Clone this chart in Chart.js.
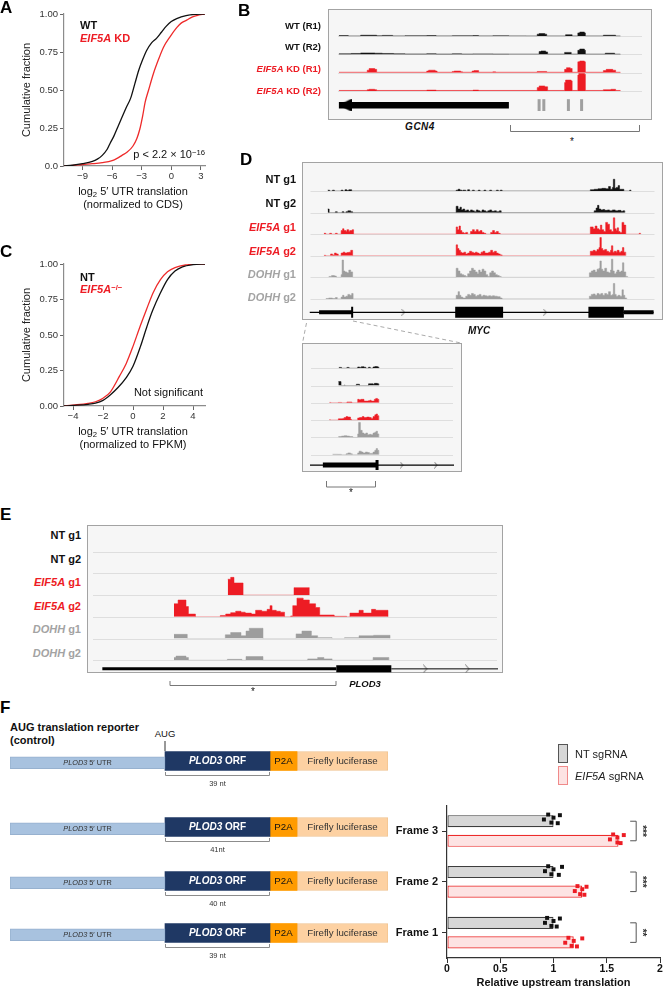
<!DOCTYPE html>
<html>
<head>
<meta charset="utf-8">
<title>EIF5A upstream translation figure</title>
<script src="https://cdn.jsdelivr.net/npm/chart.js@4.4.1/dist/chart.umd.min.js"></script>
<style>
  html, body { margin: 0; padding: 0; background: #fff; }
  #page { position: relative; width: 665px; height: 990px; overflow: hidden; font-family: "Liberation Sans", Arial, sans-serif; color: #111; }
  #page canvas, #page .box, #page .t, #page svg, #page .key { position: absolute; }
  .box { box-sizing: border-box; border: 1px solid #a3a3a3; background: #f6f6f6; }
  .t { white-space: nowrap; line-height: 1; }
  .letter { font-size: 17px; font-weight: bold; color: #000; }
  .lab { font-size: 11px; font-weight: bold; }
  .red { color: #ed1c24; }
  .gry { color: #a3a3a3; }
  .t sup { font-size: 70%; position: relative; top: -0.45em; vertical-align: baseline; }
  .t sub { font-size: 70%; position: relative; top: 0.3em; vertical-align: baseline; }
  .key { box-sizing: border-box; width: 10px; height: 19px; }
</style>
</head>
<body>
<div id="page"></div>
<script>
// ---------- A: cumulative fraction, log2 5' UTR translation (normalized to CDS) ----------
const aXTicks = [-9, -6, -3, 0, 3];
const yFracTicks = [0, 0.25, 0.5, 0.75, 1];
const aYLabels = ['0.0', '0.25', '0.50', '0.75', '1.00'];
const aWT = [[-10.9,0],[-10,0.005],[-9,0.015],[-8,0.03],[-7.5,0.045],[-7,0.07],[-6.5,0.11],[-6.2,0.15],[-5.8,0.2],[-5.4,0.26],[-5,0.32],[-4.6,0.38],[-4.1,0.45],[-3.7,0.54],[-3.3,0.63],[-2.9,0.7],[-2.5,0.76],[-2,0.81],[-1.5,0.84],[-1,0.88],[-0.5,0.92],[0,0.95],[0.55,0.97],[1.5,0.99],[2.5,0.998],[3.4,1]];
const aKD = [[-10.9,0],[-10,0.004],[-9,0.01],[-8,0.015],[-7,0.022],[-6,0.035],[-5.5,0.05],[-5,0.07],[-4.5,0.09],[-3.9,0.13],[-3.5,0.18],[-3.2,0.24],[-2.9,0.33],[-2.65,0.42],[-2.3,0.5],[-1.8,0.61],[-1.3,0.7],[-0.8,0.78],[-0.13,0.85],[0.55,0.91],[1,0.94],[1.56,0.96],[2.1,0.98],[2.6,0.99],[3.4,1]];

// ---------- C: cumulative fraction (normalized to FPKM) ----------
const cXTicks = [-4, -2, 0, 2, 4];
const cYLabels = ['0.00', '0.25', '0.50', '0.75', '1.00'];
const cNT = [[-4.6,0],[-4,0.004],[-3,0.012],[-2.5,0.02],[-2,0.04],[-1.5,0.08],[-1,0.13],[-0.45,0.2],[0,0.28],[0.5,0.42],[0.93,0.56],[1.3,0.67],[1.8,0.79],[2.3,0.89],[2.8,0.95],[3.3,0.98],[4,0.995],[4.8,1]];
const cKO = [[-4.6,0],[-4,0.006],[-3,0.018],[-2.5,0.03],[-2,0.055],[-1.5,0.1],[-0.9,0.21],[-0.45,0.3],[0,0.42],[0.47,0.56],[0.9,0.68],[1.35,0.8],[1.83,0.89],[2.3,0.945],[2.8,0.975],[3.5,0.993],[4.8,1]];

// ---------- B: GCN4 coverage tracks ([position, height] steps) ----------
const bWT1 = [[2,0.8],[12,0.3],[25,1.2],[42,0.5],[48,1],[59,0.4],[72,0.6],[95,0.8],[105,0.4],[122,0.6],[144,0.8],[150,0.4],[165,0.6],[182,0.4],[200,0.3],[212,2.5],[214,3.2],[220,2.5],[222,0.3],[242,1.8],[249,0.3],[255,4],[257,5],[262,4],[263,0.3],[282,1.2],[295,0.3],[300,0]];
const bWT2 = [[2,0.8],[15,1.2],[25,1.8],[40,1.5],[48,1.2],[60,0.8],[72,0.6],[95,0.9],[105,0.5],[122,0.8],[132,0.5],[144,0.7],[165,0.5],[182,0.4],[212,0.4],[214,3.5],[216,4.2],[221,3],[223,0.4],[241,2.5],[248,0.4],[255,5],[257,6.5],[262,5],[263,0.4],[284,1.5],[294,0.4],[300,0]];
const bKD1 = [[2,0.6],[32,3],[34,5],[40,4],[42,0.6],[95,2],[97,3],[104,2],[106,0.6],[122,1.5],[124,2],[131,1],[133,0.6],[143,2],[145,2.5],[150,0.6],[165,1],[168,0.6],[212,1.5],[222,0.6],[241,4],[243,6],[247,5],[249,0.6],[255,13],[257,14],[262,13],[263,0.6],[282,2.5],[285,4],[292,3],[295,0.6],[300,0]];
const bKD2 = [[2,0.6],[32,1.5],[34,2],[40,1.5],[42,0.6],[95,1],[105,0.6],[144,1],[150,0.6],[212,4],[214,6],[220,5],[223,0.6],[241,10],[242,13],[248,12],[249,0.6],[255,19],[256,21],[262,20],[263,0.6],[282,1.5],[290,2],[295,0.6],[300,0]];
const bGene = [[2, 182, 'cds']];
const bUorfs = [214, 219, 245, 259];

// ---------- D: MYC coverage tracks ----------
const dNT1 = [[19,1],[21,0],[24,1],[26,0],[33,1],[35,0],[37,1.5],[39,0.5],[41,1.5],[44,0],[153,1],[155,2],[157,1],[159,0],[160,1],[163,0],[165,1.5],[167,0],[170,1],[172,0],[176,1],[178,0],[182,1],[184,0],[188,1],[190,0],[195,1],[197,0],[199,1],[201,0],[293,1.5],[297,2],[301,2.5],[305,3],[309,2.5],[312,5],[314,2],[316,4],[317,13],[318.5,3],[320,4],[322,6],[323.5,2],[326,2],[328,0],[334,1],[335.5,0]];
const dNT2 = [[19,4],[20.5,0],[27,1],[29,0],[34,1],[36,0],[38,1],[40,2],[43,1],[45,0],[153,7],[155,4],[157,6],[158.5,3],[160,4],[162,2],[164,3],[166,1.5],[168,3],[170,2],[172,1],[174,3],[176,2],[178,1],[180,3],[182,2],[184,1],[186,2],[188,3],[190,1.5],[193,2],[195,1],[198,2],[200,0],[297,2],[299,5],[300.5,8],[302,4],[304,3],[306,3.5],[308,2.5],[311,3],[313,2],[316,3],[319,2],[322,2.5],[325,1.5],[327,2],[329,0]];
const dEIF1 = [[15,1],[17,0],[21,1],[23,0],[27,1],[29,0],[33,4],[34.5,6],[36,4],[38,3],[39,5],[41,3],[42,4],[44.5,5],[46,0],[153,8],[154.5,5],[156,9],[157.5,4],[159,2],[161,1],[163,2],[165,0],[168,3],[170,5],[172,3],[174,5],[176,3],[178,4],[180,2],[182,1],[184,0],[189,2],[191,4],[193,2],[195,3],[197,1],[199,0],[293,8],[296,6],[298,9],[300,6],[302,5],[303.5,10],[305,5],[307,3],[309,13],[311,11],[313,5],[315,3],[317,18],[318.5,6],[320,4],[321,7],[322.5,3],[324,2],[326,13],[328,10],[330,0],[344,1],[345.5,0]];
const dEIF2 = [[15,0.5],[17,0],[22,2],[24,1],[26,3],[28,2],[30,0],[33,3],[35,4],[37,3],[39,3.5],[41,4],[43,6],[45,0],[153,12],[154.5,8],[156,6],[157.5,4],[159,3],[161,4],[163,2],[165,3],[167,5],[169,4],[171,3],[173,4],[175,3],[177,2],[179,4],[181,5],[183,3],[185,3],[187,4],[189,6],[191,4],[193,5],[195,3],[197,2],[199,1],[201,0],[293,5],[296,6],[298,5],[300,7],[302,9],[303,20],[304.5,8],[306,6],[308,7],[310,5],[312,4],[314,6],[315,11],[316.5,4],[318,5],[320,4],[321,6],[323,4],[325,5],[326.5,9],[328,4],[330,0]];
const dDOHH1 = [[20,1],[23,2],[26,1.5],[28,0],[33,3],[34,19],[35.5,7],[37,6],[39,5],[41,8],[43,6],[45,0],[153,10],[155,7],[157,4],[159,3],[161,2],[163,1],[165,4],[167,7],[169,10],[171,8],[173,6],[175,4],[176.5,8],[178,6],[180,9],[182,7],[184,3],[186,1],[188,5],[190,7],[192,5],[194,3],[196,2],[198,1],[200,0],[292,5],[294,7],[296,8],[298,6],[300,9],[302,10],[303,18],[304.5,9],[306,7],[308,10],[310,6],[312,5],[314,8],[315,20],[316.5,7],[318,4],[320,6],[321,8],[323,6],[325,7],[326.5,16],[328,6],[330,1],[332,0]];
const dDOHH2 = [[17,0.5],[20,1],[24,0.5],[27,1.5],[29,0],[33,2],[34.5,4],[36,2],[38,3],[40,5],[42,4],[44,6],[45.5,0],[153,4],[155,8],[156.5,4],[158,2],[160,1],[163,3],[165,5],[167,4],[169,6],[171,5],[173,3],[175,4],[177,5],[179,3],[181,4],[183,3.5],[185,3],[187,3.5],[189,3],[191,3.5],[193,3],[196,2.5],[199,1],[201,0],[292,3],[294,5],[296,5.5],[298,4],[300,6],[302,5],[304,6],[306,4],[308,6],[310,5],[312,8],[314,4],[316,5],[317,17],[318.5,5],[320,3],[322,4],[324,3],[326,10],[327.5,4],[329,1],[331,0]];
const dGene = [[0,359,'line'],[10,45,'utr'],[152,202,'cds'],[291,328,'cds'],[328,359,'utr']];
const dMarks = [44.5];
const dChevrons = [98, 246];

// ---------- D inset: MYC 5' region ----------
const iNT1 = [[32,1],[35,0],[41,1],[43.5,0],[53,1.5],[55,1],[57,1.8],[60,1.2],[62,0],[65,1.2],[67,0],[70,1.5],[72,2],[75,1.5],[76.5,0]];
const iNT2 = [[31.5,4.5],[34.5,0],[38,0.5],[39,0],[51.5,1.5],[55,0],[65,2],[70,1.5],[71.5,2.5],[75,2],[76.5,0]];
const iEIF1 = [[21.5,0.5],[23,0],[31.5,0.5],[35,0],[41,1],[46.5,0],[53,4],[54.5,3.5],[56.5,4],[60,2],[65,2.5],[66.5,3],[68,2],[71.5,4],[73,5],[75,4],[76.5,0]];
const iEIF2 = [[21.5,0.5],[22.5,0],[31.5,1.5],[36.5,2],[38,3],[40,4],[42,3.5],[45,1],[46,0],[53,2.5],[55,3],[58,4],[60,3],[63,3.5],[66,3],[68,2],[70,4],[72,6],[73.5,7],[75,5],[76.5,0]];
const iDOHH1 = [[31.5,1],[35,1.5],[38,2],[41,1.5],[44,1],[47.5,0],[53,4],[54,17],[56,8],[58,5],[60,4],[62,5],[64,3],[66,3.5],[68,3],[70,5],[72,6],[73.5,7],[75,4],[76.5,0]];
const iDOHH2 = [[25,0.5],[31,0.4],[35,0],[40,1],[42,2],[45,1],[47,0],[53,2],[54.5,4],[57,3],[59,2],[61.5,3],[64,2.5],[66,1.5],[70,3],[72,5],[73.5,7],[75,5],[76.5,0]];
const iGene = [[0,160,'line'],[14.3,75,'utr']];
const iMarks = [74.5];
const iChevrons = [102, 140];

// ---------- E: PLOD3 coverage tracks ----------
const eNT1 = [];
const eNT2 = [];
const eEIF1 = [[139.1,17],[142.1,19],[145.5,13],[154.8,0],[207,8],[222.7,0]];
const eEIF2 = [[84,14],[88.2,18],[96.3,11],[98.8,3],[106,0],[131.5,1.5],[137,3],[142.1,4.5],[147.2,6],[152.7,5],[157,4],[163.3,3],[167.6,7],[173.9,6],[179.4,8],[182.4,12],[184.5,7],[188.8,6],[193,5],[197.3,0],[203.6,1],[205.7,12],[210,20],[216.4,18],[222.7,14],[229.1,10],[233.3,2],[248.2,0.6],[260.9,0],[264.3,4],[273.6,7],[277.9,4],[286.4,8],[290.6,7],[303.3,0]];
const eDOHH1 = [[84,4.5],[97.6,0],[136.6,4],[142.1,6.5],[152.7,3],[157.8,8],[161.2,11],[175.2,0],[209.1,5],[215.1,8],[224.8,3],[231.2,1],[246,0],[258.8,1],[273.6,3],[288.5,3.5],[305.4,0]];
const eDOHH2 = [[84,3],[86.1,4.5],[96.3,3],[98.8,0],[138.7,1],[153.6,0],[157.8,4],[175.2,0],[221,1.5],[231.2,3],[237.6,1.5],[246,0],[288,3],[304.2,0]];
const eGene = [[10.6,250.3,'utr'],[250.3,306.7,'cds'],[306.7,416,'line']];
const eChevrons = [341.5, 384.8];

// ---------- F: reporter constructs and upstream translation ----------
const utrSpan = [0, 155];
const orfSpan = [155, 260];
const p2aSpan = [260, 287];
const lucSpan = [287, 378];
const orfLengths = ['39 nt', '41nt', '40 nt', '39 nt'];
const frames = ['Frame 3', 'Frame 2', 'Frame 1'];
const ntMean = [1.0, 1.0, 1.0];
const eifMean = [1.61, 1.27, 1.19];
const ntDots = [[0.91,0.95,0.98,1.0,1.04,1.06],[0.92,0.95,0.98,1.0,1.05,1.08],[0.92,0.94,0.98,1.0,1.03,1.06]];
const eifDots = [[1.53,1.56,1.6,1.6,1.63,1.66],[1.2,1.225,1.25,1.27,1.29,1.31],[1.11,1.14,1.17,1.19,1.22,1.27]];
const sigLabels = ['***', '***', '**'];
const fXTicks = [0, 0.5, 1, 1.5, 2];

// ---------------------------------------------------------------------------
const RED = '#ed1c24', BLK = '#111111', GRY = '#9d9d9d';
const FONT = '"Liberation Sans", Arial, sans-serif';
Chart.defaults.font.family = FONT;
const page = document.getElementById('page');

function mkCanvas(x, y, w, h) {
  const c = document.createElement('canvas');
  c.width = w; c.height = h;
  c.style.left = x + 'px'; c.style.top = y + 'px';
  page.appendChild(c);
  return c;
}
function mkBox(x, y, w, h) {
  const d = document.createElement('div');
  d.className = 'box';
  d.style.cssText = `left:${x}px;top:${y}px;width:${w}px;height:${h}px`;
  page.appendChild(d);
}
function txt(html, x, y, cls, anchor, style) {
  const d = document.createElement('div');
  d.className = 't ' + (cls || '');
  d.innerHTML = html;
  const tx = anchor === 'r' ? '-100%' : anchor === 'c' ? '-50%' : '0';
  d.style.cssText = `left:${x}px;top:${y}px;transform:translate(${tx},-50%);${style || ''}`;
  page.appendChild(d);
}

// ---- cumulative distribution charts (A, C) ----
function cdfChart(canvas, series, colors, xRange, xTicks, yLabels) {
  return new Chart(canvas, {
    type: 'line',
    data: {
      datasets: series.map((s, i) => ({
        data: s.map(([x, y]) => ({ x, y })),
        borderColor: colors[i], borderWidth: 1.3, pointRadius: 0,
        cubicInterpolationMode: 'monotone'
      }))
    },
    options: {
      responsive: false, animation: false, devicePixelRatio: 1,
      layout: { padding: { top: 14, right: 5, left: 0, bottom: 0 } },
      plugins: { legend: { display: false }, tooltip: { enabled: false } },
      scales: {
        x: {
          type: 'linear', min: xRange[0], max: xRange[1],
          afterBuildTicks: s => { s.ticks = xTicks.map(v => ({ value: v })); },
          afterFit: s => { s.height = 44; },
          grid: { drawOnChartArea: false, tickLength: 4, color: '#666' },
          border: { color: '#8c8c8c', width: 1.2 },
          ticks: { color: '#333', font: { size: 9.5 }, padding: 1, maxRotation: 0, autoSkip: false,
                   callback: v => (v < 0 ? '−' : '') + Math.abs(v) }
        },
        y: {
          type: 'linear', min: 0, max: 1,
          afterBuildTicks: s => { s.ticks = yFracTicks.map(v => ({ value: v })); },
          afterFit: s => { s.width = 64; },
          grid: { drawOnChartArea: false, tickLength: 4, color: '#666' },
          border: { color: '#8c8c8c', width: 1.2 },
          ticks: { color: '#333', font: { size: 9.5 }, padding: 2, callback: (v, i) => yLabels[i] },
          title: { display: true, text: 'Cumulative fraction', color: '#222', font: { size: 11 }, padding: { top: 20, bottom: 0 } }
        }
      }
    }
  });
}

// ---- genome browser style tracks (B, D, inset, E) ----
function pointImage(w, h, draw) {
  const c = document.createElement('canvas');
  c.width = w; c.height = h;
  draw(c.getContext('2d'), w, h);
  return c;
}
const chevron = (w, h) => pointImage(w, h, (g) => {
  g.strokeStyle = '#6d6d6d'; g.lineWidth = 1;
  g.beginPath(); g.moveTo(0.5, 0.5); g.lineTo(w - 1, h / 2); g.lineTo(0.5, h - 0.5); g.stroke();
});
const arrowHead = pointImage(13, 13, (g, w, h) => {
  g.fillStyle = '#000';
  g.beginPath(); g.moveTo(0, h / 2); g.lineTo(w, 0); g.lineTo(w, h); g.closePath(); g.fill();
});

const trackLines = {
  id: 'trackLines',
  beforeDatasetsDraw(chart) {
    const { ctx, chartArea } = chart;
    ctx.save();
    ctx.strokeStyle = '#dedede'; ctx.lineWidth = 1;
    Object.values(chart.scales).forEach(s => {
      if (s.id[0] !== 't') return;
      const y = Math.round(s.getPixelForValue(0)) + 0.5;
      ctx.beginPath(); ctx.moveTo(chartArea.left + 1, y); ctx.lineTo(chartArea.right - 1, y); ctx.stroke();
    });
    ctx.restore();
  }
};

function trackChart(canvas, cfg) {
  const scales = { x: { type: 'linear', min: 0, max: cfg.width, display: false } };
  const datasets = [];
  cfg.tracks.forEach((steps, i) => {
    const id = 't' + i;
    scales[id] = { type: 'linear', position: 'right', stack: 'tracks', stackWeight: 1, min: 0, max: cfg.trackMax, display: false };
    datasets.push({
      data: steps.map(([x, y]) => ({ x, y })), yAxisID: id,
      stepped: true, fill: 'origin', backgroundColor: cfg.colors[i], borderColor: cfg.colors[i],
      borderWidth: 0.5, pointRadius: 0
    });
  });
  scales.g = { type: 'linear', position: 'right', stack: 'tracks', stackWeight: cfg.geneWeight,
               min: cfg.geneRange[0], max: cfg.geneRange[1], display: false };
  cfg.gene.forEach(([a, b, kind]) => {
    datasets.push({ data: [{ x: a, y: 0 }, { x: b, y: 0 }], yAxisID: 'g', borderColor: '#000',
                    borderWidth: cfg.geneWidths[kind], borderCapStyle: 'butt', pointRadius: 0 });
  });
  if (cfg.arrowAt !== undefined) {
    datasets.push({ data: [{ x: cfg.arrowAt + 6.5, y: 0 }], yAxisID: 'g', showLine: false,
                    pointStyle: arrowHead, pointRadius: 6 });
  }
  if (cfg.marks) {
    datasets.push({ data: cfg.marks.xs.map(x => ({ x, y: 0 })), yAxisID: 'g', showLine: false,
                    pointStyle: 'line', rotation: 90, pointRadius: cfg.marks.len / 2,
                    pointBorderWidth: cfg.marks.width, pointBorderColor: cfg.marks.color });
  }
  if (cfg.chevrons) {
    const img = chevron(cfg.chevronSize[0], cfg.chevronSize[1]);
    datasets.push({ data: cfg.chevrons.map(x => ({ x, y: 0 })), yAxisID: 'g', showLine: false,
                    pointStyle: img, pointRadius: 4 });
  }
  return new Chart(canvas, {
    type: 'line',
    data: { datasets },
    options: {
      responsive: false, animation: false, devicePixelRatio: 1,
      layout: { padding: 0 },
      plugins: { legend: { display: false }, tooltip: { enabled: false } },
      scales
    },
    plugins: [trackLines]
  });
}

// ---- reporter construct rows (F) ----
const segStyles = [
  { text: [['PLOD3', 'italic '], [' 5′ UTR', '']], size: 7.3, color: '#333' },
  { text: [['PLOD3', 'italic bold '], [' ORF', 'bold ']], size: 10, color: '#fff' },
  { text: [['P2A', '']], size: 9.7, color: '#111' },
  { text: [['Firefly luciferase', '']], size: 9.7, color: '#333' }
];
const segPlugin = {
  id: 'seg',
  afterDatasetsDraw(chart, args, opts) {
    const { ctx, chartArea } = chart;
    ctx.save();
    ctx.textBaseline = 'middle'; ctx.textAlign = 'left';
    segStyles.forEach((st, i) => {
      const el = chart.getDatasetMeta(i).data[0];
      const cx = (el.x + el.base) / 2;
      const fonts = st.text.map(([, f]) => `${f}${st.size}px ${FONT}`);
      let w = 0;
      st.text.forEach(([s], k) => { ctx.font = fonts[k]; w += ctx.measureText(s).width; });
      let x = cx - w / 2;
      ctx.fillStyle = st.color;
      st.text.forEach(([s], k) => { ctx.font = fonts[k]; ctx.fillText(s, x, el.y + 0.5); x += ctx.measureText(s).width; });
    });
    const orf = chart.getDatasetMeta(1).data[0];
    const yb = chartArea.bottom + 4.5, x0 = orf.base + 0.5, x1 = orf.x - 0.5;
    ctx.strokeStyle = '#8c8c8c'; ctx.lineWidth = 1;
    ctx.beginPath(); ctx.moveTo(x0, yb - 3.5); ctx.lineTo(x0, yb); ctx.lineTo(x1, yb); ctx.lineTo(x1, yb - 3.5); ctx.stroke();
    ctx.fillStyle = '#333'; ctx.font = `7.5px ${FONT}`; ctx.textAlign = 'center';
    ctx.fillText(opts.nt, (x0 + x1) / 2, chartArea.bottom + 13);
    ctx.restore();
  }
};
function constructChart(canvas, ntLabel) {
  return new Chart(canvas, {
    type: 'bar',
    data: {
      labels: ['reporter'],
      datasets: [
        { data: [{ x: utrSpan, y: 0 }], yAxisID: 'yu', backgroundColor: '#a8c2df', borderColor: '#97b1cf', borderWidth: 1, barThickness: 12, grouped: false, borderSkipped: false },
        { data: [orfSpan], backgroundColor: '#1f3864', barThickness: 19, grouped: false },
        { data: [p2aSpan], backgroundColor: '#ff9b00', barThickness: 19, grouped: false },
        { data: [lucSpan], backgroundColor: '#fdd1a2', borderColor: '#f0c28e', borderWidth: 1, barThickness: 19, grouped: false, borderSkipped: false }
      ]
    },
    options: {
      indexAxis: 'y', responsive: false, animation: false, devicePixelRatio: 1,
      layout: { padding: { left: 10, right: 12, top: 16, bottom: 24 } },
      plugins: { legend: { display: false }, tooltip: { enabled: false }, seg: { nt: ntLabel } },
      scales: {
        x: { type: 'linear', min: 0, max: 378, display: false },
        y: { type: 'category', display: false },
        yu: { type: 'linear', min: -0.65, max: 1.35, display: false }
      }
    },
    plugins: [segPlugin]
  });
}

// ---- bar chart (F) ----
const catPct = 0.77, barPct = 0.62;
const dotJitter = [0.05, -0.35, 0.3, -0.1, 0.35, -0.3];
function dotPoints(groups, side) {
  const off = catPct / 4, barUnits = catPct / 2 * barPct;
  const pts = [];
  groups.forEach((vals, i) => vals.forEach((v, k) => {
    pts.push({ x: v, y: i + 0.5 + side * off + dotJitter[k] * barUnits });
  }));
  return pts;
}
const sigX = 1.72;
const sigPlugin = {
  id: 'sig',
  afterDatasetsDraw(chart) {
    const { ctx } = chart;
    const a = chart.getDatasetMeta(0).data, b = chart.getDatasetMeta(1).data;
    const x0 = chart.scales.x.getPixelForValue(sigX), x1 = x0 + 6;
    ctx.save();
    ctx.strokeStyle = '#555'; ctx.lineWidth = 1; ctx.fillStyle = '#333';
    ctx.font = `bold 10px ${FONT}`; ctx.textAlign = 'center'; ctx.textBaseline = 'middle';
    sigLabels.forEach((lab, i) => {
      const y0 = a[i].y, y1 = b[i].y;
      ctx.beginPath(); ctx.moveTo(x0, y0); ctx.lineTo(x1, y0); ctx.lineTo(x1, y1); ctx.lineTo(x0, y1); ctx.stroke();
      ctx.save(); ctx.translate(x1 + 5.5, (y0 + y1) / 2); ctx.rotate(Math.PI / 2); ctx.fillText(lab, 0, 0); ctx.restore();
    });
    ctx.restore();
  }
};

// ===================== build the page =====================
// Panel A
cdfChart(mkCanvas(0, 0, 210, 210), [aWT, aKD], [BLK, '#ee2a2a'], [-10.88, 3.42], aXTicks, aYLabels);
txt('A', 0, 7, 'letter');
txt('WT', 80, 24.5, 'lab');
txt('<i>EIF5A</i> KD', 80, 38, 'lab red');
txt('p &lt; 2.2 × 10<sup>−16</sup>', 205, 154, '', 'r', 'font-size:11px');
txt('log<sub>2</sub> 5′ UTR translation', 133, 191, '', 'c', 'font-size:11px');
txt('(normalized to CDS)', 133, 203.5, '', 'c', 'font-size:11px');

// Panel C
cdfChart(mkCanvas(0, 250, 210, 200), [cNT, cKO], [BLK, '#ee2a2a'], [-4.6, 4.8], cXTicks, cYLabels);
txt('C', 0, 251, 'letter');
txt('NT', 80, 276.5, 'lab');
txt('<i>EIF5A</i><sup>−/−</sup>', 80, 289, 'lab red');
txt('Not significant', 203, 392, '', 'r', 'font-size:11px');
txt('log<sub>2</sub> 5′ UTR translation', 133, 431, '', 'c', 'font-size:11px');
txt('(normalized to FPKM)', 133, 443.5, '', 'c', 'font-size:11px');

// Panel B
mkBox(328, 9, 324, 111);
trackChart(mkCanvas(328, 9, 324, 111), {
  width: 324, trackMax: 21.8, tracks: [bWT1, bWT2, bKD1, bKD2], colors: [BLK, BLK, RED, RED],
  geneWeight: 1.1, geneRange: [-0.58, 1.42], gene: bGene, geneWidths: { cds: 6.5 }, arrowAt: 2,
  marks: { xs: bUorfs, len: 12, width: 3, color: '#a0a0a0' }
});
txt('B', 238, 10, 'letter');
txt('WT (R1)', 321, 25.5, 'lab', 'r', 'font-size:9.5px');
txt('WT (R2)', 321, 47, 'lab', 'r', 'font-size:9.5px');
txt('<i>EIF5A</i> KD (R1)', 321, 68.7, 'lab red', 'r', 'font-size:9.5px');
txt('<i>EIF5A</i> KD (R2)', 321, 90.5, 'lab red', 'r', 'font-size:9.5px');
txt('<i>GCN4</i>', 420, 127, 'lab', 'c', 'font-size:10px;letter-spacing:0.5px');
txt('*', 572, 142, '', 'c', 'font-size:10px');

// Panel D
mkBox(302, 162, 361, 158);
trackChart(mkCanvas(302, 162, 361, 166), {
  width: 361, trackMax: 23.7, tracks: [dNT1, dNT2, dEIF1, dEIF2, dDOHH1, dDOHH2],
  colors: [BLK, BLK, RED, RED, GRY, GRY],
  geneWeight: 1, geneRange: [-0.76, 1.24], gene: dGene, geneWidths: { line: 1.3, utr: 4, cds: 11 },
  marks: { xs: dMarks, len: 11, width: 2, color: '#000' }, chevrons: dChevrons, chevronSize: [4, 7]
});
txt('D', 240, 159, 'letter');
const trackNames = [
  ['NT g1', 'lab'], ['NT g2', 'lab'],
  ['<i>EIF5A</i> g1', 'lab red'], ['<i>EIF5A</i> g2', 'lab red'],
  ['<i>DOHH</i> g1', 'lab gry'], ['<i>DOHH</i> g2', 'lab gry']
];
[179, 203.3, 226.7, 251, 274.3, 297.3].forEach((y, i) => txt(trackNames[i][0], 296, y, trackNames[i][1], 'r'));
txt('<i>MYC</i>', 479, 331, 'lab', 'c', 'font-size:10px');

// D inset
mkBox(302, 343, 160, 129);
trackChart(mkCanvas(302, 343, 160, 137), {
  width: 160, trackMax: 19.6, tracks: [iNT1, iNT2, iEIF1, iEIF2, iDOHH1, iDOHH2],
  colors: [BLK, BLK, RED, RED, GRY, GRY],
  geneWeight: 1, geneRange: [-0.8, 1.2], gene: iGene, geneWidths: { line: 1.3, utr: 5 },
  marks: { xs: iMarks, len: 10, width: 3, color: '#000' }, chevrons: iChevrons, chevronSize: [4, 7]
});
txt('*', 351, 493, '', 'c', 'font-size:10px');

// Panel E
mkBox(87, 525, 416, 148);
trackChart(mkCanvas(87, 525, 416, 162), {
  width: 416, trackMax: 23.2, tracks: [eNT1, eNT2, eEIF1, eEIF2, eDOHH1, eDOHH2],
  colors: [BLK, BLK, RED, RED, GRY, GRY],
  geneWeight: 1, geneRange: [-1.21, 0.79], gene: eGene, geneWidths: { line: 1, utr: 3, cds: 7 },
  chevrons: eChevrons, chevronSize: [5, 9]
});
txt('E', 0, 514, 'letter');
[535, 558.7, 582, 606, 629.3, 653.3].forEach((y, i) => txt(trackNames[i][0], 81, y, trackNames[i][1], 'r'));
txt('<i>PLOD3</i>', 365, 684, 'lab', 'c', 'font-size:9.5px');
txt('*', 253, 692, '', 'c', 'font-size:10px');

// Panel F constructs
txt('F', 0, 706.5, 'letter');
txt('AUG translation reporter', 10, 727, 'lab');
txt('(control)', 10, 740, 'lab');
txt('AUG', 165, 733.5, '', 'c', 'font-size:9.5px');
[735, 801, 855, 907].forEach((top, i) => constructChart(mkCanvas(0, top, 400, 60), orfLengths[i]));

// Panel F bar chart (bars + axes)
new Chart(mkCanvas(380, 795, 285, 195), {
  type: 'bar',
  data: {
    labels: frames,
    datasets: [
      { label: 'NT sgRNA', data: ntMean, backgroundColor: '#d7d7d7', borderColor: '#3d3d3d', borderWidth: 1.2,
        categoryPercentage: catPct, barPercentage: barPct, borderSkipped: false },
      { label: 'EIF5A sgRNA', data: eifMean, backgroundColor: '#fde3e3', borderColor: '#ec2b2b', borderWidth: 1.2,
        categoryPercentage: catPct, barPercentage: barPct, borderSkipped: false }
    ]
  },
  options: {
    indexAxis: 'y', responsive: false, animation: false, devicePixelRatio: 1,
    layout: { padding: { top: 8, right: 5, left: 0, bottom: 0 } },
    plugins: { legend: { display: false }, tooltip: { enabled: false } },
    scales: {
      x: {
        type: 'linear', min: 0, max: 2,
        afterBuildTicks: s => { s.ticks = fXTicks.map(v => ({ value: v })); },
        afterFit: s => { s.height = 32; },
        grid: { drawOnChartArea: false, tickLength: 5, color: '#333' },
        border: { color: '#333', width: 1.2 },
        ticks: { color: '#111', font: { size: 10.5, weight: 'bold' }, padding: 0, maxRotation: 0, callback: v => String(v) },
        title: { display: true, text: 'Relative upstream translation', color: '#111', font: { size: 11, weight: 'bold' }, padding: { top: 0, bottom: 0 } }
      },
      y: {
        type: 'category',
        afterFit: s => { s.width = 67; },
        grid: { drawOnChartArea: false, tickLength: 5, color: '#333', offset: false },
        border: { color: '#333', width: 1.2 },
        ticks: { color: '#111', font: { size: 11, weight: 'bold' }, padding: 4 }
      }
    }
  },
  plugins: [sigPlugin]
});

// Panel F replicate dots, drawn on the same plot area
new Chart(mkCanvas(380, 795, 285, 195), {
  type: 'scatter',
  data: {
    datasets: [
      { data: dotPoints(ntDots, -1), backgroundColor: '#111', pointStyle: 'rect', pointRadius: 2.8, borderWidth: 0 },
      { data: dotPoints(eifDots, 1), backgroundColor: RED, pointStyle: 'rect', pointRadius: 2.8, borderWidth: 0 }
    ]
  },
  options: {
    responsive: false, animation: false, devicePixelRatio: 1,
    layout: { padding: { left: 67, top: 8, right: 5, bottom: 32 } },
    plugins: { legend: { display: false }, tooltip: { enabled: false } },
    scales: {
      x: { type: 'linear', min: 0, max: 2, display: false },
      y: { type: 'linear', min: 0, max: 3, reverse: true, display: false }
    }
  }
});

// F legend
const k1 = document.createElement('div');
k1.className = 'key'; k1.style.cssText = 'left:558px;top:744px;background:#d7d7d7;border:1px solid #555';
page.appendChild(k1);
const k2 = document.createElement('div');
k2.className = 'key'; k2.style.cssText = 'left:558px;top:766px;background:#fde3e3;border:1px solid #f08a8a';
page.appendChild(k2);
txt('NT sgRNA', 575, 754, '', 'l', 'font-size:11px;color:#222');
txt('<i>EIF5A</i> sgRNA', 575, 776, '', 'l', 'font-size:11px;color:#222');

// connector lines, brackets and the AUG marker
const svgNS = 'http://www.w3.org/2000/svg';
const svg = document.createElementNS(svgNS, 'svg');
svg.setAttribute('width', 665); svg.setAttribute('height', 990);
svg.style.left = '0px'; svg.style.top = '0px';
const shapes = [
  ['path', { d: 'M510.5 125 V131.5 H639.5 V125' }],
  ['path', { d: 'M326.5 481 V487 H375.5 V481' }],
  ['path', { d: 'M170 681 V685.5 H336 V681' }],
  ['line', { x1: 306.5, y1: 323, x2: 302.5, y2: 343, 'stroke-dasharray': '4 3', stroke: '#aaa' }],
  ['line', { x1: 353, y1: 321, x2: 461, y2: 343, 'stroke-dasharray': '4 3', stroke: '#aaa' }],
  ['line', { x1: 165, y1: 741, x2: 165, y2: 751, stroke: '#333' }]
];
shapes.forEach(([tag, attrs]) => {
  const el = document.createElementNS(svgNS, tag);
  el.setAttribute('fill', 'none'); el.setAttribute('stroke', '#777'); el.setAttribute('stroke-width', '1');
  Object.entries(attrs).forEach(([k, v]) => el.setAttribute(k, v));
  svg.appendChild(el);
});
page.appendChild(svg);
</script>
</body>
</html>
